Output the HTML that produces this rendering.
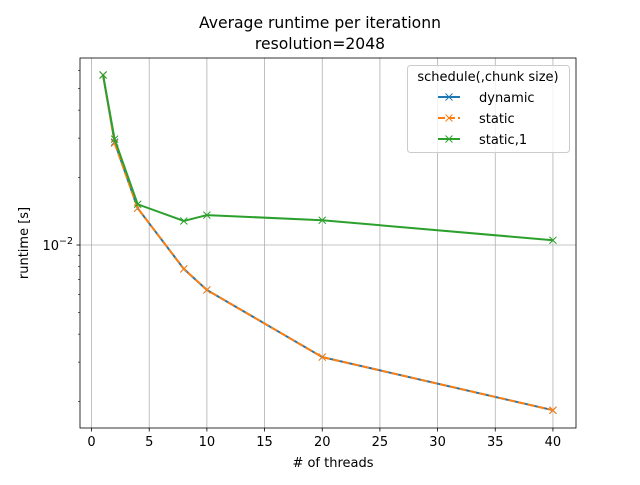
<!DOCTYPE html>
<html><head><meta charset="utf-8"><style>
body{margin:0;background:#fff}
svg{font-family:"DejaVu Sans","Liberation Sans",sans-serif}
</style></head><body>
<svg id="c" width="640" height="480" viewBox="0 0 640 480">
<rect width="640" height="480" fill="#fff"/>
<text x="320" y="28" font-size="15.6" text-anchor="middle">Average runtime per iterationn</text>
<text x="320" y="49" font-size="15.6" text-anchor="middle">resolution=2048</text>
<g id="grid"></g><g id="series"></g><g id="axes"></g>
<text x="333" y="467" font-size="13" text-anchor="middle"># of threads</text>
<text transform="translate(28,243) rotate(-90)" font-size="13" text-anchor="middle">runtime [s]</text>
<g>
<rect x="407.5" y="65.5" width="162" height="87" rx="3" fill="#fff" fill-opacity="0.8" stroke="#ccc"/>
<text x="488" y="81" font-size="13" text-anchor="middle">schedule(,chunk size)</text>
<g id="leg"></g>
</g>
</svg>
<script>
const threads=[1,2,4,8,10,20,40];
const dynamicVals=[0.0574,0.0288,0.0146,0.00782,0.0063,0.00316,0.00183];
const staticVals=[0.0574,0.0285,0.0146,0.00782,0.0063,0.00316,0.00183];
const static1Vals=[0.0574,0.0297,0.0152,0.0128,0.0136,0.0129,0.0105];
const seriesNames=["dynamic","static","static,1"];
const xTicks=[0,5,10,15,20,25,30,35,40];
const NS="http://www.w3.org/2000/svg";
const L=80,R=576,T=58,B=428;
const xMin=-1,xMax=42;
function X(v){return L+(v-xMin)/(xMax-xMin)*(R-L);}
const Y0=245,DEC=224;
function Y(v){return Y0-DEC*Math.log10(v/0.01);}
function mk(tag,attrs,parent){const e=document.createElementNS(NS,tag);for(const k in attrs)e.setAttribute(k,attrs[k]);parent.appendChild(e);return e;}
const grid=document.getElementById('grid'),axes=document.getElementById('axes'),ser=document.getElementById('series');
xTicks.forEach(t=>{
  const x=X(t);
  const g=mk('line',{x1:x,x2:x,y1:T,y2:B,stroke:'#b0b0b0','stroke-width':0.8},grid);
  
  
  mk('line',{x1:x,x2:x,y1:B,y2:B+3.5,stroke:'#000','stroke-width':0.8},axes);
  const tx=mk('text',{x:x,y:B+18,'font-size':13,'text-anchor':'middle'},axes);
  tx.textContent=t;
  
  
});
const yg=mk('line',{x1:L,x2:R,y1:Y(0.01),y2:Y(0.01),stroke:'#b0b0b0','stroke-width':0.8},grid);


mk('line',{x1:L-3.5,x2:L,y1:Y(0.01),y2:Y(0.01),stroke:'#000','stroke-width':0.8},axes);
const yl=mk('text',{x:L-7,y:Y(0.01)+5,'font-size':13,'text-anchor':'end'},axes);
yl.innerHTML='10<tspan dy="-6" font-size="9.5">−2</tspan>';


[0.002,0.003,0.004,0.005,0.006,0.007,0.008,0.009,0.02,0.03,0.04,0.05,0.06].forEach(v=>{
  const y=Y(v); if(y<T||y>B)return;
  mk('line',{x1:L-2,x2:L,y1:y,y2:y,stroke:'#000','stroke-width':0.6},axes);
});
const fr=mk('rect',{x:L,y:T,width:R-L,height:B-T,fill:'none',stroke:'#000','stroke-width':0.8},axes);


const colors=['#1f77b4','#ff7f0e','#2ca02c'];
const dashes=['none','7,3','none'];
const data=[dynamicVals,staticVals,static1Vals];
function cross(x,y,c,p,name){const d=3.5;const g=mk('path',{d:`M${x-d},${y-d}L${x+d},${y+d}M${x-d},${y+d}L${x+d},${y-d}`,stroke:c,'stroke-width':1,fill:'none'},p);}
data.forEach((vals,i)=>{
  const pts=threads.map((t,j)=>X(t)+','+Y(vals[j])).join(' ');
  const pl=mk('polyline',{points:pts,fill:'none',stroke:colors[i],'stroke-width':2,'stroke-dasharray':dashes[i]},ser);
  
  
  threads.forEach((t,j)=>cross(X(t),Y(vals[j]),colors[i],ser,'marker-'+seriesNames[i].replace(',','-')));
});
const leg=document.getElementById('leg');
seriesNames.forEach((n,i)=>{
  const y=97+i*21;
  const l=mk('line',{x1:438,x2:460,y1:y,y2:y,stroke:colors[i],'stroke-width':2,'stroke-dasharray':dashes[i]},leg);
  
  
  cross(449,y,colors[i],leg,'legend-marker');
  const t=mk('text',{x:479,y:y+5,'font-size':13},leg);
  t.textContent=n;
  
  
});
</script>
</body></html>
